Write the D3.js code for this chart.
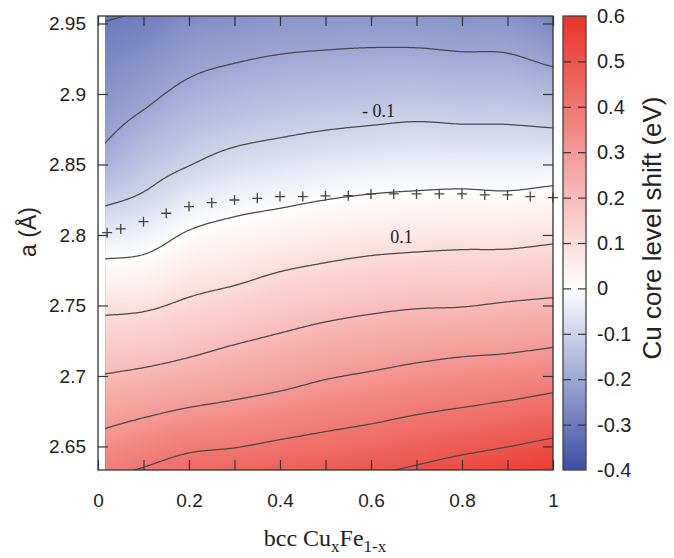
<!DOCTYPE html>
<html><head><meta charset="utf-8">
<script src="https://cdn.jsdelivr.net/npm/d3@7"></script>
<style>body{margin:0;background:#fff;} svg{display:block;}</style>
</head><body>
<svg id="chart" width="674" height="558"></svg>
<script>
// ---------------- data ----------------
// composition x of bcc CuxFe1-x (grid columns)
const compositionX = [0, 0.1, 0.2, 0.3, 0.4, 0.5, 0.6, 0.7, 0.8, 0.9, 1.0];
// lattice constant a (Å) (grid rows, ascending)
const latticeA = [2.63, 2.65, 2.67, 2.69, 2.71, 2.73, 2.75, 2.77, 2.79, 2.81, 2.83, 2.85, 2.87, 2.89, 2.91, 2.93, 2.95, 2.97];
// Cu core level shift (eV) along a, one array per composition column
const shiftX00 = [0.386, 0.330, 0.277, 0.226, 0.177, 0.130, 0.082, 0.032, -0.019, -0.075, -0.129, -0.182, -0.214, -0.236, -0.257, -0.279, -0.300, -0.335];
const shiftX01 = [0.415, 0.358, 0.301, 0.244, 0.189, 0.139, 0.089, 0.039, -0.009, -0.054, -0.099, -0.134, -0.168, -0.202, -0.230, -0.257, -0.285, -0.312];
const shiftX02 = [0.446, 0.386, 0.323, 0.264, 0.208, 0.160, 0.113, 0.070, 0.028, -0.014, -0.058, -0.102, -0.134, -0.166, -0.198, -0.226, -0.255, -0.283];
const shiftX03 = [0.457, 0.397, 0.337, 0.281, 0.230, 0.181, 0.133, 0.087, 0.047, 0.006, -0.035, -0.076, -0.114, -0.148, -0.181, -0.213, -0.243, -0.272];
const shiftX04 = [0.472, 0.414, 0.356, 0.298, 0.250, 0.201, 0.155, 0.109, 0.064, 0.019, -0.023, -0.063, -0.102, -0.136, -0.169, -0.203, -0.234, -0.265];
const shiftX05 = [0.485, 0.429, 0.374, 0.319, 0.269, 0.220, 0.172, 0.124, 0.078, 0.033, -0.011, -0.051, -0.092, -0.128, -0.163, -0.198, -0.230, -0.262];
const shiftX06 = [0.499, 0.444, 0.389, 0.335, 0.283, 0.234, 0.185, 0.137, 0.089, 0.043, -0.002, -0.043, -0.085, -0.123, -0.159, -0.195, -0.229, -0.262];
const shiftX07 = [0.519, 0.463, 0.407, 0.352, 0.298, 0.246, 0.194, 0.144, 0.095, 0.049, 0.003, -0.038, -0.079, -0.119, -0.157, -0.195, -0.230, -0.263];
const shiftX08 = [0.542, 0.482, 0.422, 0.365, 0.310, 0.253, 0.197, 0.148, 0.099, 0.052, 0.006, -0.038, -0.082, -0.123, -0.162, -0.200, -0.236, -0.271];
const shiftX09 = [0.560, 0.499, 0.438, 0.377, 0.317, 0.261, 0.207, 0.153, 0.100, 0.052, 0.003, -0.040, -0.083, -0.123, -0.163, -0.202, -0.237, -0.272];
const shiftX10 = [0.582, 0.519, 0.456, 0.394, 0.331, 0.271, 0.215, 0.162, 0.109, 0.060, 0.012, -0.037, -0.086, -0.133, -0.179, -0.224, -0.267, -0.305];
const dataStartX = 0.016;   // first computed composition
// contour levels (eV)
const contourLevels = [-0.3, -0.2, -0.1, 0, 0.1, 0.2, 0.3, 0.4, 0.5];
// contour labels
const labelText = ["- 0.1", "0.1"];
const labelX = [0.6165, 0.667];
const labelA = [2.8837, 2.7943];
// equilibrium lattice constants ("+" markers)
const eqX = [0.02, 0.05, 0.10, 0.15, 0.20, 0.25, 0.30, 0.35, 0.40, 0.45, 0.50, 0.55, 0.60, 0.65, 0.70, 0.75, 0.80, 0.85, 0.90, 0.95, 1.00];
const eqA = [2.8016, 2.8043, 2.8094, 2.8154, 2.8201, 2.8229, 2.8248, 2.8260, 2.8272, 2.8272, 2.8277, 2.8279, 2.8291, 2.8291, 2.8291, 2.8291, 2.8291, 2.8284, 2.8284, 2.8272, 2.8265];
// ticks
const xMinorTicks = [0, 0.1, 0.2, 0.3, 0.4, 0.5, 0.6, 0.7, 0.8, 0.9, 1];
const xTickLabels = [0, 0.2, 0.4, 0.6, 0.8, 1];
const yTicks = [2.65, 2.7, 2.75, 2.8, 2.85, 2.9, 2.95];
const cbTicks = [-0.4, -0.3, -0.2, -0.1, 0, 0.1, 0.2, 0.3, 0.4, 0.5, 0.6];
const cbDashes = [-0.3, -0.2, -0.1, 0, 0.1, 0.2, 0.3, 0.4, 0.5];

// ---------------- layout ----------------
const L = 98, R = 553, T = 16, B = 470;
const cbL = 563, cbR = 586;
const sans = "'Liberation Sans', Arial, Helvetica, sans-serif";
const serif = "'Liberation Serif', 'Times New Roman', serif";
const fmt = d3.formatLocale({decimal: ".", thousands: ",", grouping: [3], currency: ["", ""], minus: "-"}).format("~g");

const svg = d3.select("#chart");
const x = d3.scaleLinear().domain([0, 1]).range([L, R]);
const y = d3.scaleLinear().domain([2.6333, 2.9553]).range([B, T]);
const color = d3.scaleLinear().domain([-0.4, 0, 0.6])
  .range(["#3b4ea6", "#ffffff", "#e8332a"]).clamp(true);

const columns = [shiftX00, shiftX01, shiftX02, shiftX03, shiftX04, shiftX05, shiftX06, shiftX07, shiftX08, shiftX09, shiftX10];
const nC = columns.length, nR = latticeA.length;

// smooth (Catmull-Rom) sampling of the gridded values for rendering
function cr(p0, p1, p2, p3, t) {
  return 0.5 * ((2 * p1) + (-p0 + p2) * t + (2 * p0 - 5 * p1 + 4 * p2 - p3) * t * t + (-p0 + 3 * p1 - 3 * p2 + p3) * t * t * t);
}
function gridVal(i, j) {
  // linear extension beyond the grid edges
  if (i < 0) return 2 * gridVal(0, j) - gridVal(1, j);
  if (i > nC - 1) return 2 * gridVal(nC - 1, j) - gridVal(nC - 2, j);
  if (j < 0) return 2 * columns[i][0] - columns[i][1];
  if (j > nR - 1) return 2 * columns[i][nR - 1] - columns[i][nR - 2];
  return columns[i][j];
}
function locate(arr, v) {
  let i = d3.bisectRight(arr, v) - 1;
  i = Math.max(0, Math.min(arr.length - 2, i));
  const t = (v - arr[i]) / (arr[i + 1] - arr[i]);
  return [i, t];
}
function valueAt(xv, av) {
  const [i, tx] = locate(compositionX, xv);
  const [j, ta] = locate(latticeA, av);
  const rows = [];
  for (let dj = -1; dj <= 2; dj++) {
    rows.push(cr(gridVal(i - 1, j + dj), gridVal(i, j + dj), gridVal(i + 1, j + dj), gridVal(i + 2, j + dj), tx));
  }
  return cr(rows[0], rows[1], rows[2], rows[3], ta);
}

// ---------------- heatmap ----------------
const hx0 = Math.round(x(dataStartX));
const W = R - hx0, H = B - T;
const canvas = document.createElement("canvas");
canvas.width = W; canvas.height = H;
const ctx = canvas.getContext("2d");
const img = ctx.createImageData(W, H);
for (let py = 0; py < H; py++) {
  const av = y.invert(T + py + 0.5);
  for (let px = 0; px < W; px++) {
    const xv = x.invert(hx0 + px + 0.5);
    const c = d3.rgb(color(valueAt(xv, av)));
    const k = (py * W + px) * 4;
    img.data[k] = c.r; img.data[k + 1] = c.g; img.data[k + 2] = c.b; img.data[k + 3] = 255;
  }
}
ctx.putImageData(img, 0, 0);
svg.append("image").attr("x", hx0).attr("y", T).attr("width", W).attr("height", H)
  .attr("preserveAspectRatio", "none").attr("href", canvas.toDataURL());

// ---------------- contours ----------------
const defs = svg.append("defs");
defs.append("clipPath").attr("id", "plotClip").append("rect")
  .attr("x", x(dataStartX)).attr("y", T).attr("width", R - x(dataStartX)).attr("height", B - T);

const nF = 260, mF = 260;
const X0 = dataStartX, X1 = 1, A0 = latticeA[0], A1 = latticeA[nR - 1];
const sx = (X1 - X0) / (nF - 1), sa = (A1 - A0) / (mF - 1);
const fine = new Float64Array(nF * mF);
for (let j = 0; j < mF; j++) for (let i = 0; i < nF; i++) fine[j * nF + i] = valueAt(X0 + i * sx, A0 + j * sa);
const contours = d3.contours().size([nF, mF]).thresholds(contourLevels)(fine);
const proj = d3.geoTransform({
  point: function (gx, gy) { this.stream.point(x(X0 + (gx - 0.5) * sx), y(A0 + (gy - 0.5) * sa)); }
});
const gpath = d3.geoPath(proj);
svg.append("g").attr("clip-path", "url(#plotClip)")
  .selectAll("path").data(contours).join("path")
  .attr("d", gpath).attr("fill", "none").attr("stroke", "#484848").attr("stroke-width", 1.25);

// contour labels
svg.append("g").selectAll("text").data(labelText).join("text")
  .attr("x", (d, i) => x(labelX[i])).attr("y", (d, i) => y(labelA[i]))
  .attr("text-anchor", "middle").attr("font-family", serif).attr("font-size", 18)
  .attr("fill", "#222").text(d => d);

// ---------------- equilibrium markers ----------------
svg.append("g").selectAll("path").data(eqX).join("path")
  .attr("transform", (d, i) => `translate(${x(d)},${y(eqA[i])})`)
  .attr("d", "M-5,0H5M0,-5V5").attr("stroke", "#444").attr("stroke-width", 1.3).attr("fill", "none");

// ---------------- axes ----------------
function styleAxis(g) {
  g.select(".domain").remove();
  g.selectAll(".tick line").attr("stroke", "#333").attr("stroke-width", 1.2);
  g.selectAll("text").attr("font-family", sans).attr("font-size", 19).attr("fill", "#222");
}
svg.append("g").attr("transform", `translate(0,${B})`)
  .call(d3.axisBottom(x).tickValues(xMinorTicks).tickSize(-10).tickFormat(""))
  .call(styleAxis);
svg.append("g").attr("transform", `translate(0,${B})`)
  .call(d3.axisBottom(x).tickValues(xTickLabels).tickSize(0).tickPadding(24).tickFormat(fmt))
  .call(styleAxis);
svg.append("g").attr("transform", `translate(0,${T})`)
  .call(d3.axisTop(x).tickValues(xMinorTicks).tickSize(-10).tickFormat(""))
  .call(styleAxis);
svg.append("g").attr("transform", `translate(${L},0)`)
  .call(d3.axisLeft(y).tickValues(yTicks).tickSize(-10).tickPadding(12).tickFormat(fmt))
  .call(styleAxis);
svg.append("g").attr("transform", `translate(${R},0)`)
  .call(d3.axisRight(y).tickValues(yTicks).tickSize(-10).tickFormat(""))
  .call(styleAxis);

// frame
svg.append("rect").attr("x", L).attr("y", T).attr("width", R - L).attr("height", B - T)
  .attr("fill", "none").attr("stroke", "#333").attr("stroke-width", 1.3);

// axis titles
svg.append("text").attr("transform", `translate(28,232) rotate(-90)`)
  .attr("text-anchor", "middle").attr("dominant-baseline", "central")
  .attr("font-family", sans).attr("font-size", 23).attr("fill", "#222").text("a (Å)");

const xt = svg.append("text").attr("x", 325).attr("y", 546).attr("text-anchor", "middle")
  .attr("font-family", serif).attr("font-size", 24).attr("fill", "#222");
xt.append("tspan").text("bcc Cu");
xt.append("tspan").attr("font-size", 17).attr("dy", 6).text("x");
xt.append("tspan").attr("dy", -6).text("Fe");
xt.append("tspan").attr("font-size", 17).attr("dy", 6).text("1-x");

// ---------------- colorbar ----------------
const cy = d3.scaleLinear().domain([-0.4, 0.6]).range([B, T]);
const grad = defs.append("linearGradient").attr("id", "cbGrad")
  .attr("x1", 0).attr("y1", 1).attr("x2", 0).attr("y2", 0);
grad.selectAll("stop").data(d3.range(0, 51)).join("stop")
  .attr("offset", d => d / 50).attr("stop-color", d => color(-0.4 + d / 50));
svg.append("rect").attr("x", cbL).attr("y", T).attr("width", cbR - cbL).attr("height", B - T)
  .attr("fill", "url(#cbGrad)");
svg.append("g").attr("transform", `translate(${cbL},0)`)
  .call(d3.axisRight(cy).tickValues(cbDashes).tickSize(8).tickFormat(""))
  .call(styleAxis);
svg.append("g").attr("transform", `translate(${cbR},0)`)
  .call(d3.axisRight(cy).tickValues(cbDashes).tickSize(-8).tickFormat(""))
  .call(styleAxis);
svg.append("g").attr("transform", `translate(${cbR},0)`)
  .call(d3.axisRight(cy).tickValues(cbTicks).tickSize(0).tickPadding(11).tickFormat(fmt))
  .call(styleAxis)
  .call(g => g.selectAll("text").attr("font-size", 20));
svg.append("rect").attr("x", cbL).attr("y", T).attr("width", cbR - cbL).attr("height", B - T)
  .attr("fill", "none").attr("stroke", "#444").attr("stroke-width", 1.3);

svg.append("text").attr("transform", `translate(652,228) rotate(-90)`)
  .attr("text-anchor", "middle").attr("dominant-baseline", "central")
  .attr("font-family", sans).attr("font-size", 26).attr("fill", "#222").text("Cu core level shift (eV)");
</script>
</body></html>
